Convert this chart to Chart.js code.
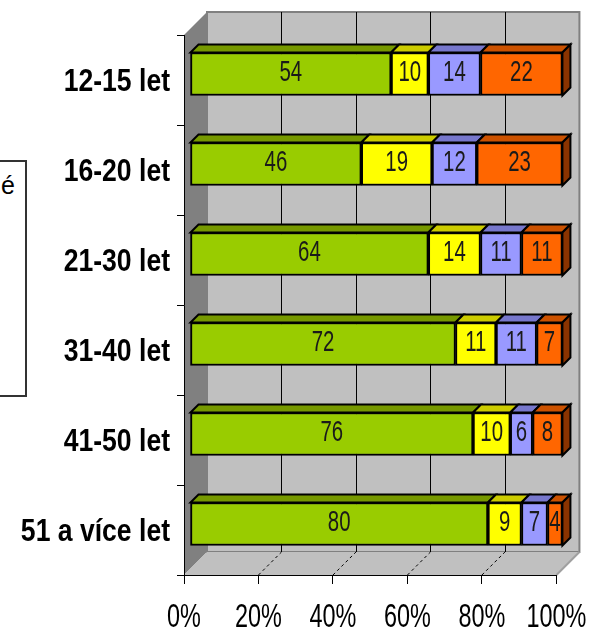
<!DOCTYPE html>
<html>
<head>
<meta charset="utf-8">
<script src="https://cdn.jsdelivr.net/npm/chart.js@4.4.1/dist/chart.umd.min.js"></script>
<style>
html,body{margin:0;padding:0;background:#fff;}
#wrap{position:relative;width:592px;height:630px;overflow:hidden;}
#legendBox{position:absolute;left:-10px;top:160px;width:33px;height:233px;border:2px solid #333;background:#fff;}
#legendTxt{position:absolute;left:1px;top:171px;font:25px 'Liberation Sans','Arial',sans-serif;color:#000;}
canvas{position:absolute;left:0;top:0;}
</style>
</head>
<body>
<div id="wrap">
<div id="legendBox"></div>
<div id="legendTxt">é</div>
<canvas id="c" width="592" height="630"></canvas>
</div>
<script>
const categories = ['12-15 let','16-20 let','21-30 let','31-40 let','41-50 let','51 a více let'];
const series1 = [54,46,64,72,76,80];
const series2 = [10,19,14,11,10,9];
const series3 = [14,12,11,11,6,7];
const series4 = [22,23,11,7,8,4];
const seriesNames = ['Skupina 1','Skupina 2','Skupina 3','Skupina 4'];
const frontColors = ['#99cc00','#ffff00','#9999ff','#ff6600'];
const topColors = ['#779900','#cccc00','#7777cc','#cc5200'];
const sideColor = '#8a3300';
const xTicks = [0,20,40,60,80,100];

const raw = [series1,series2,series3,series4];
const totals = categories.map((_,i)=>raw.reduce((s,a)=>s+a[i],0));
const pct = raw.map(a=>a.map((v,i)=>v/totals[i]*100));

const FONT = "'Liberation Sans',Arial,sans-serif";
const DX = 23, DY = 23;   // wall depth
const BO = 6;             // bar offset into depth
const BD = 8;             // bar depth

function squeezeText(ctx, text, x, y, sx, align){
  ctx.save();
  ctx.translate(x, y);
  ctx.scale(sx, 1);
  ctx.textAlign = align;
  ctx.textBaseline = 'alphabetic';
  ctx.fillText(text, 0, 0);
  ctx.restore();
}

const threeD = {
  id:'threeD',
  beforeDraw(chart){
    const ctx = chart.ctx, a = chart.chartArea, xs = chart.scales.x;
    ctx.save();
    ctx.fillStyle = '#c0c0c0';
    ctx.fillRect(a.left+DX, a.top-DY, a.right-a.left, a.bottom-a.top);
    ctx.strokeStyle = '#808080'; ctx.lineWidth = 2;
    ctx.strokeRect(a.left+DX, a.top-DY, a.right-a.left, a.bottom-a.top);
    ctx.strokeStyle = '#000'; ctx.lineWidth = 1;
    xTicks.slice(1,-1).forEach(v=>{
      const px = Math.round(xs.getPixelForValue(v))+DX+0.5;
      ctx.beginPath(); ctx.moveTo(px,a.top-DY); ctx.lineTo(px,a.bottom-DY); ctx.stroke();
    });
    ctx.fillStyle = '#808080';
    ctx.beginPath();
    ctx.moveTo(a.left,a.top); ctx.lineTo(a.left+DX,a.top-DY);
    ctx.lineTo(a.left+DX,a.bottom-DY); ctx.lineTo(a.left,a.bottom); ctx.closePath(); ctx.fill();
    ctx.fillStyle = '#c0c0c0';
    ctx.beginPath();
    ctx.moveTo(a.left,a.bottom); ctx.lineTo(a.right,a.bottom);
    ctx.lineTo(a.right+DX,a.bottom-DY); ctx.lineTo(a.left+DX,a.bottom-DY); ctx.closePath(); ctx.fill();
    ctx.strokeStyle = '#a0a0a0'; ctx.lineWidth = 2;
    ctx.beginPath(); ctx.moveTo(a.right,a.bottom); ctx.lineTo(a.right+DX,a.bottom-DY); ctx.stroke();
    ctx.strokeStyle = '#000'; ctx.lineWidth = 1; ctx.setLineDash([3,3]);
    xTicks.slice(1,-1).forEach(v=>{
      const px = xs.getPixelForValue(v);
      ctx.beginPath(); ctx.moveTo(px,a.bottom); ctx.lineTo(px+DX,a.bottom-DY); ctx.stroke();
    });
    ctx.setLineDash([]);
    ctx.restore();
  },
  beforeDatasetsDraw(chart){
    chart.ctx.save();
    chart.ctx.translate(BO,-BO);
  },
  afterDatasetsDraw(chart){
    const ctx = chart.ctx;
    const n = chart.data.datasets.length;
    ctx.lineWidth = 2; ctx.strokeStyle = '#000'; ctx.lineJoin = 'miter';
    chart.data.datasets.forEach((ds,di)=>{
      const meta = chart.getDatasetMeta(di);
      meta.data.forEach((bar,i)=>{
        const p = bar.getProps(['x','y','base','height'],true);
        const x0 = Math.min(p.base,p.x), x1 = Math.max(p.base,p.x);
        const top = p.y - p.height/2, bot = p.y + p.height/2;
        ctx.fillStyle = topColors[di];
        ctx.beginPath();
        ctx.moveTo(x0,top); ctx.lineTo(x0+BD,top-BD); ctx.lineTo(x1+BD,top-BD); ctx.lineTo(x1,top); ctx.closePath();
        ctx.fill(); ctx.stroke();
        if(di===n-1){
          ctx.fillStyle = sideColor;
          ctx.beginPath();
          ctx.moveTo(x1,top); ctx.lineTo(x1+BD,top-BD); ctx.lineTo(x1+BD,bot-BD); ctx.lineTo(x1,bot); ctx.closePath();
          ctx.fill(); ctx.stroke();
        }
      });
    });
    ctx.fillStyle = '#1a1a1a';
    ctx.font = '30px ' + FONT;
    chart.data.datasets.forEach((ds,di)=>{
      const meta = chart.getDatasetMeta(di);
      meta.data.forEach((bar,i)=>{
        const p = bar.getProps(['x','y','base'],true);
        squeezeText(ctx, String(raw[di][i]), (p.x+p.base)/2, p.y+6.5, 0.68, 'center');
      });
    });
    ctx.restore();
  },
  afterDraw(chart){
    const ctx = chart.ctx, xs = chart.scales.x, ys = chart.scales.y;
    ctx.save();
    ctx.fillStyle = '#000';
    ctx.font = 'bold 32px ' + FONT;
    categories.forEach((c,i)=>{
      squeezeText(ctx, c, 170, ys.getPixelForTick(i)+11, 0.83, 'right');
    });
    ctx.font = '33px ' + FONT;
    xTicks.forEach(v=>{
      squeezeText(ctx, v+'%', xs.getPixelForValue(v), 627, 0.71, 'center');
    });
    ctx.restore();
  }
};

new Chart(document.getElementById('c'),{
  type:'bar',
  data:{
    labels:categories,
    datasets: pct.map((d,i)=>({
      label:seriesNames[i], data:d,
      backgroundColor:frontColors[i], borderColor:'#000', borderWidth:2, borderSkipped:false,
      barThickness:43
    }))
  },
  options:{
    indexAxis:'y',
    responsive:false,
    animation:false,
    devicePixelRatio:1,
    layout:{padding:{top:35,right:34,left:0,bottom:0}},
    plugins:{legend:{display:false},tooltip:{enabled:false}},
    scales:{
      x:{
        stacked:true, min:0, max:100,
        afterBuildTicks(s){ s.ticks = xTicks.map(v=>({value:v})); },
        afterFit(s){ s.height = 55; },
        grid:{drawOnChartArea:false, drawTicks:true, tickLength:9, color:'#000'},
        border:{display:true,color:'#000',width:1},
        ticks:{callback:v=>v+'%', color:'rgba(0,0,0,0)', autoSkip:false, maxRotation:0, padding:10,
          font:{family:FONT, size:20}}
      },
      y:{
        stacked:true,
        afterFit(s){ s.width = 184; },
        grid:{drawOnChartArea:false, drawTicks:true, tickLength:7, color:'#000', offset:true},
        border:{display:true,color:'#000',width:1},
        ticks:{color:'rgba(0,0,0,0)', padding:7, autoSkip:false, font:{family:FONT, size:20}}
      }
    }
  },
  plugins:[threeD]
});
</script>
</body>
</html>
